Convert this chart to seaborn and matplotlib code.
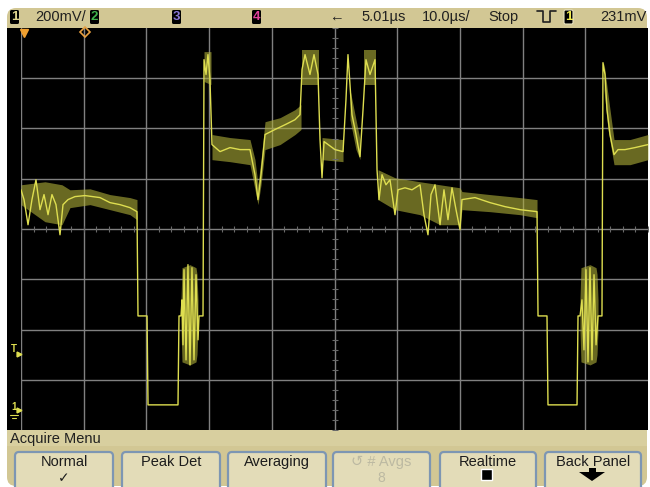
import numpy as np
import pandas as pd
import seaborn as sns
import matplotlib.pyplot as plt
from matplotlib.patches import FancyBboxPatch, Rectangle, Polygon
from matplotlib.transforms import blended_transform_factory

# Ch1 trace: time in us (10 us/div), level in mV (200 mV/div, 0 = ch1 ground)
trace_us = [0.0, 0.48, 1.12, 1.75, 2.39, 3.03, 3.67, 4.31, 4.94, 5.58, 6.22, 6.70, 7.50, 8.61, 10.21, 12.60, 14.19, 15.79, 17.38, 18.50,
            18.66, 20.10, 20.26, 25.04, 25.20, 25.52,
            25.68, 25.84, 26.00, 26.32, 26.63, 26.95, 27.27, 27.59, 27.91, 28.23,
            28.39, 29.03, 29.19, 29.51, 29.82, 30.14, 30.46, 31.74, 33.33, 34.93, 36.52, 37.32, 37.80, 38.28, 38.92, 40.51, 42.11, 43.70, 44.50,
            44.82, 45.30, 46.09, 46.73, 47.37, 47.69, 48.01, 48.33, 50.08, 51.36, 51.83, 52.15, 52.79, 53.43, 54.07, 54.55, 55.02, 55.66, 56.46,
            56.78, 57.10, 57.58, 58.21, 58.85, 59.65, 60.13, 61.24, 62.36, 63.64, 64.27, 64.91, 65.39, 66.03, 66.83, 67.46, 68.10, 68.74, 69.38, 70.02, 70.33,
            72.41, 74.80, 77.19, 79.59, 82.30, 82.46, 83.89, 84.05, 88.68, 88.84, 89.16,
            89.47, 89.79, 90.11, 90.43, 90.75, 91.07, 91.39, 91.71, 92.03, 92.66,
            92.82, 93.14, 93.46, 93.94, 94.58, 95.22, 96.33, 97.93, 100.0]
trace_mv = [876, 837, 737, 837, 916, 797, 857, 777, 857, 817, 697, 817, 837, 849, 853, 845, 825, 817, 805, 789,
            374, 374, 20, 20, 374, 374,
            438, 259, 558, 199, 578, 179, 566, 199, 538, 279,
            374, 374, 1394, 1335, 1414, 1315, 1056, 1028, 1044, 1036, 1036, 936, 837, 936, 1096, 1116, 1135, 1155, 1175,
            1355, 1414, 1335, 1414, 1335, 1076, 924, 1068, 1036, 1028, 1235, 1414, 1175, 1096, 1008, 1195, 1394, 1335, 1394,
            956, 837, 936, 896, 916, 777, 876, 884, 876, 896, 777, 697, 857, 896, 737, 876, 757, 884, 797, 717, 837,
            845, 825, 809, 797, 789, 374, 374, 20, 20, 374, 374,
            438, 239, 558, 191, 566, 199, 538, 259, 374, 374,
            1382, 1335, 1195, 1096, 1016, 1036, 1036, 1044, 1056]

# noise envelope around the trace (one id per stretch)
band_seg = [1] * 8 + [2] * 6 + [3] * 2 + [4] * 10 + [5] * 2 + [6] * 2 + [7] * 3 + [8] * 2 + [9] * 9 + [10] * 6 + [11] * 5
band_us = [0, 3.83, 6.54, 7.81, 11.0, 14.19, 17.38, 18.50,
           25.52, 25.68, 26.95, 27.91, 28.07, 28.23,
           29.19, 30.30,
           30.46, 33.33, 36.52, 37.32, 37.80, 38.28, 38.92, 41.31, 43.70, 44.66,
           44.82, 47.53,
           48.01, 51.36,
           52.47, 53.43, 54.07,
           54.70, 56.62,
           56.94, 59.65, 63.64, 66.83, 70.02, 70.33, 74.80, 79.59, 82.30,
           89.15, 89.31, 90.75, 91.71, 91.87, 92.03,
           92.98, 93.62, 94.58, 97.13, 100.0]
band_hi = [896, 908, 896, 876, 880, 857, 845, 837,
           438, 566, 578, 566, 540, 438,
           1426, 1426,
           1096, 1084, 1076, 996, 896, 996, 1147, 1163, 1195, 1215,
           1434, 1434,
           1084, 1076,
           1275, 1155, 1076,
           1434, 1434,
           956, 924, 908, 896, 884, 869, 857, 845, 837,
           438, 566, 578, 566, 540, 438,
           1382, 1255, 1076, 1076, 1096]
band_lo = [817, 749, 737, 805, 817, 797, 777, 757,
           319, 191, 179, 191, 220, 319,
           1307, 1295,
           996, 988, 976, 876, 817, 896, 1036, 1056, 1096, 1116,
           1295, 1295,
           996, 988,
           1155, 1036, 996,
           1295, 1295,
           837, 797, 777, 737, 737, 797, 789, 777, 765,
           319, 191, 179, 191, 220, 319,
           1275, 1116, 976, 976, 996]

trigger_mv = 231
trigger_us = 10.2

# status line and softkeys
status_text = ["200mV/", "←", "5.01µs", "10.0µs/", "Stop", "231mV"]
status_x = [35, 329, 361, 422, 488, 600]
chan_boxes = ["1", "2", "3", "4", "1"]
chan_x = [10, 90, 172, 252, 564]
chan_colors = ["#ddd38c", "#3fb24a", "#8a78d8", "#e0409a", "#f0ea50"]
buttons = ["Normal", "Peak Det", "Averaging", "↺ # Avgs", "Realtime", "Back Panel"]
button_sub = ["✓", "", "", "8", "", ""]
button_x = [(15, 113), (122, 220), (228, 326), (333, 430), (440, 536), (545, 641)]

TAN = "#d2c794"
KEY = "#e3dcb8"
YEL = "#dede50"
GRID = "#808080"

sns.set_theme(style="dark")
plt.rcParams['font.family'] = ['Liberation Sans Narrow', 'Liberation Sans', 'DejaVu Sans']

fig = plt.figure(figsize=(6.5, 4.87), dpi=100, facecolor="white")

# pixel-space overlay for the bezel, status bar and menu
ui = fig.add_axes([0, 0, 1, 1], zorder=0)
ui.set_xlim(0, 650)
ui.set_ylim(487, 0)
ui.axis("off")
ui.add_patch(FancyBboxPatch((7, 8), 640, 478, boxstyle="round,pad=0,rounding_size=9", fc=TAN, ec="none"))
ui.add_patch(Rectangle((7, 28), 641, 402, fc="black", ec="none"))
ui.add_patch(Rectangle((7, 430), 640, 16, fc="#d8cf9f", ec="none"))

for lab, x, c in zip(chan_boxes, chan_x, chan_colors):
    ui.add_patch(FancyBboxPatch((x, 10), 9, 14, boxstyle="round,pad=0,rounding_size=1.5",
                                fc="black", ec="#e8e2c0" if x > 500 else "none", lw=0.8))
    ui.text(x + 4.5, 17.5, lab, color=c, fontsize=9.5, ha="center", va="center", fontweight="bold")
for txt, x in zip(status_text, status_x):
    ui.text(x, 17, txt, color="#202020", fontsize=10.5, ha="left", va="center")
# trigger slope glyph
ui.plot([537, 543, 543, 550, 550, 556], [11, 11, 22, 22, 11, 11], color="#202020", lw=1.2)

ui.text(10, 439, "Acquire Menu", color="#202020", fontsize=10.5, ha="left", va="center")
for i, (lab, (x0, x1)) in enumerate(zip(buttons, button_x)):
    ui.add_patch(FancyBboxPatch((x0, 452), x1 - x0, 45, boxstyle="round,pad=0,rounding_size=4",
                                fc=KEY, ec="#7d96b3", lw=1.6))
    col = "#bcb9a2" if "Avgs" in lab else "#1c1c1c"
    ui.text((x0 + x1) / 2, 462, lab, color=col, fontsize=10.5, ha="center", va="center")
    if button_sub[i]:
        ui.text((x0 + x1) / 2, 478, button_sub[i], color=col, fontsize=10, ha="center", va="center",
                family=["DejaVu Sans"] if button_sub[i] == "✓" else None)
ui.add_patch(Rectangle((481, 469), 11, 11, fc="black", ec="white", lw=1))
ui.add_patch(Polygon([(589, 468), (596, 468), (596, 472), (605, 472), (592, 481), (579, 472), (589, 472)],
                     closed=True, fc="black", ec="none"))

# graticule area
ax = fig.add_axes([21 / 650, 1 - 430 / 487, 627 / 650, 402 / 487], zorder=1)
ax.set_facecolor("black")
ax.set_xlim(0, 100)
ax.set_ylim(-80, 1520)
ax.set_xticks(np.arange(0, 100, 10))
ax.set_yticks(np.arange(120, 1520, 200))
ax.grid(True, color=GRID, lw=1)
ax.tick_params(length=0, labelbottom=False, labelleft=False)
for s in ax.spines.values():
    s.set_visible(False)
ax.plot(np.arange(0, 100.1, 2), np.full(51, 720), ls="none", marker="|", ms=4, mew=0.8, color="#6a6a6a")
ax.plot(np.full(41, 50), np.arange(-80, 1521, 40), ls="none", marker="_", ms=4, mew=0.8, color="#6a6a6a")

band = pd.DataFrame({"seg": band_seg, "us": band_us, "lo": band_lo, "hi": band_hi})
for _, g in band.groupby("seg"):
    ax.fill_between(g["us"], g["lo"], g["hi"], color="#b0b03a", alpha=0.6, lw=0)

sns.lineplot(x=trace_us, y=trace_mv, sort=False, estimator=None, color=YEL, lw=1.0, ax=ax)
ax.set_xlabel("")
ax.set_ylabel("")

# time reference / trigger position markers along the top edge
ax.plot([0.45], [1500], marker="v", ms=6, color="#f0a030", clip_on=False)
ax.plot([trigger_us], [1505], marker="D", ms=5, mfc="none", mec="#e8a040", mew=1.2, clip_on=False)

# level markers left of the graticule
lt = blended_transform_factory(ui.transData, ax.transData)
ax.text(14, trigger_mv + 10, "T", transform=lt, color=YEL, fontsize=7, fontweight="bold",
        ha="center", va="center", clip_on=False)
ax.plot([18.5], [trigger_mv - 8], marker=">", ms=3.5, color=YEL, transform=lt, clip_on=False)
ax.text(14, 10, "1", transform=lt, color=YEL, fontsize=7, fontweight="bold",
        ha="center", va="center", clip_on=False)
ax.plot([18.5], [0], marker=">", ms=3.5, color=YEL, transform=lt, clip_on=False)
ax.plot([10, 18], [-22, -22], color=YEL, lw=0.8, transform=lt, clip_on=False)
ax.plot([12, 16], [-32, -32], color=YEL, lw=0.8, transform=lt, clip_on=False)

fig.savefig("out.png", dpi=100, facecolor="white")
